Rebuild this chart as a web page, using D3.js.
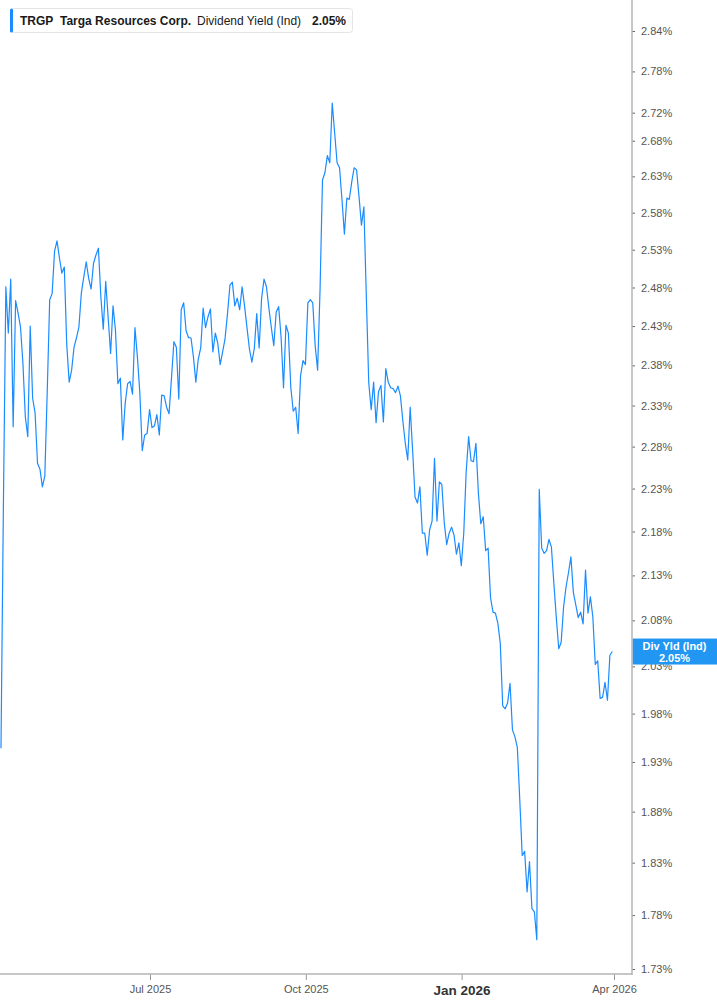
<!DOCTYPE html>
<html><head><meta charset="utf-8">
<script src="https://cdn.jsdelivr.net/npm/d3@7"></script>
<style>
html,body{margin:0;padding:0;background:#fff;}
svg{display:block;font-family:"Liberation Sans",Arial,Helvetica,sans-serif;}
</style></head><body>
<svg id="c" width="717" height="1005"></svg>
<script>
const ticker = "TRGP";
const company = "Targa Resources Corp.";
const metric = "Dividend Yield (Ind)";
const shortMetric = "Div Yld (Ind)";
const startDate = "2025-04-04";
const endDate = "2026-03-31";
const yieldValues = [
1.944,2.213,2.481,2.421,2.491,2.304,2.463,2.447,2.429,2.383,
2.316,2.292,2.430,2.339,2.321,2.260,2.253,2.232,2.245,2.349,
2.464,2.472,2.528,2.542,2.519,2.499,2.507,2.406,2.359,2.374,
2.403,2.415,2.429,2.473,2.494,2.514,2.492,2.478,2.512,2.523,
2.532,2.468,2.426,2.488,2.441,2.395,2.456,2.425,2.357,2.364,
2.288,2.333,2.357,2.360,2.344,2.428,2.391,2.346,2.275,2.294,
2.296,2.325,2.303,2.305,2.319,2.294,2.343,2.342,2.328,2.320,
2.364,2.410,2.403,2.338,2.451,2.460,2.424,2.415,2.415,2.391,
2.359,2.388,2.402,2.453,2.428,2.442,2.452,2.397,2.421,2.408,
2.381,2.397,2.414,2.446,2.483,2.487,2.456,2.466,2.451,2.481,
2.456,2.428,2.401,2.384,2.401,2.446,2.402,2.466,2.491,2.481,
2.453,2.428,2.405,2.448,2.455,2.416,2.352,2.431,2.421,2.352,
2.323,2.328,2.296,2.367,2.386,2.381,2.460,2.464,2.460,2.405,
2.374,2.477,2.625,2.635,2.659,2.649,2.734,2.691,2.649,2.642,
2.598,2.551,2.600,2.598,2.622,2.642,2.639,2.602,2.563,2.588,
2.468,2.358,2.325,2.359,2.309,2.347,2.355,2.310,2.376,2.359,
2.352,2.351,2.346,2.354,2.342,2.311,2.284,2.264,2.328,2.276,
2.220,2.213,2.232,2.178,2.178,2.153,2.182,2.192,2.266,2.192,
2.238,2.235,2.190,2.165,2.178,2.185,2.176,2.154,2.167,2.141,
2.178,2.250,2.292,2.263,2.262,2.284,2.225,2.189,2.197,2.158,
2.161,2.105,2.089,2.088,2.077,2.055,1.988,1.985,1.991,2.012,
1.963,1.956,1.945,1.892,1.837,1.841,1.802,1.831,1.786,1.783,
1.757,2.229,2.161,2.155,2.158,2.171,2.162,2.121,2.083,2.049,
2.056,2.095,2.117,2.133,2.151,2.111,2.097,2.083,2.089,2.076,
2.136,2.088,2.106,2.084,2.032,2.036,1.996,1.997,2.013,1.994,
2.042,2.046
];
const yTickValues = [1.73,1.78,1.83,1.88,1.93,1.98,2.03,2.08,2.13,2.18,2.23,2.28,2.33,2.38,2.43,2.48,2.53,2.58,2.63,2.68,2.72,2.78,2.84];
const xTickDates = ["2025-07-01","2025-10-01","2026-01-01","2026-04-01"];
const xTickLabels = ["Jul 2025","Oct 2025","Jan 2026","Apr 2026"];

const svg = d3.select("#c");
const W = 717, H = 1005;
const plotRight = 632, plotBottom = 974;
const parse = d3.timeParse("%Y-%m-%d");
const lineColor = "#1a8cff";

const x = d3.scaleTime()
  .domain([new Date(2025,3,3,10), new Date(2026,3,11,15)])
  .range([0, plotRight]);
const y = d3.scaleLog().domain([1.73, 2.84]).range([969, 31]);

const t0 = parse(startDate), t1 = parse(endDate);
const n = yieldValues.length;
const data = yieldValues.map((v,i) => ({
  date: new Date(+t0 + (t1 - t0) * i / (n - 1)),
  value: v
}));

// y axis (right)
const yAxis = d3.axisRight(y).tickValues(yTickValues)
  .tickFormat(d => d.toFixed(2) + "%").tickSize(3).tickPadding(6);
const gy = svg.append("g").attr("transform", `translate(${plotRight},0)`).call(yAxis);
gy.select(".domain").remove();
gy.selectAll(".tick line").attr("stroke", "#666");
gy.selectAll(".tick text").attr("fill", "#555").style("font-size", "11px")
  .style("font-family", '"Liberation Sans",Arial,sans-serif');

// x axis
const xAxis = d3.axisBottom(x).tickValues(xTickDates.map(parse))
  .tickFormat((d,i) => xTickLabels[i]).tickSize(6).tickPadding(5);
const gx = svg.append("g").attr("transform", `translate(0,${plotBottom})`).call(xAxis);
gx.select(".domain").remove();
gx.selectAll(".tick line").attr("stroke", "#999");
gx.selectAll(".tick text").attr("fill", "#555").style("font-size", "11px")
  .style("font-family", '"Liberation Sans",Arial,sans-serif');
gx.selectAll(".tick text").filter((d,i) => xTickLabels[i].startsWith("Jan"))
  .style("font-size", "13.5px").style("font-weight", "bold").attr("fill", "#333");

// axis lines
svg.append("line").attr("x1", 0).attr("x2", plotRight).attr("y1", plotBottom).attr("y2", plotBottom)
  .attr("stroke", "#b5b5b5").attr("stroke-width", 1.5);
svg.append("line").attr("x1", plotRight).attr("x2", plotRight).attr("y1", 0).attr("y2", plotBottom + 1)
  .attr("stroke", "#b5b5b5").attr("stroke-width", 1.5);

// line
const line = d3.line().x(d => x(d.date)).y(d => y(d.value));
svg.append("path").datum(data).attr("d", line)
  .attr("fill", "none").attr("stroke", lineColor).attr("stroke-width", 1.2)
  .attr("stroke-linejoin", "round");

// legend
const lg = svg.append("g");
lg.append("rect").attr("x", 10.5).attr("y", 8.5).attr("width", 342).attr("height", 24)
  .attr("rx", 3).attr("fill", "#fff").attr("stroke", "#e4e4e4");
lg.append("rect").attr("x", 10).attr("y", 8.5).attr("width", 3).attr("height", 24)
  .attr("rx", 1.5).attr("fill", lineColor);
const last = data[n - 1];
const legendItems = [
  {t: ticker, x: 20, w: "bold"},
  {t: company, x: 60, w: "bold"},
  {t: metric, x: 197, w: "normal"},
  {t: last.value.toFixed(2) + "%", x: 312, w: "bold"}
];
lg.selectAll("text.lg").data(legendItems).enter().append("text")
  .attr("x", d => d.x).attr("y", 25).text(d => d.t)
  .style("font-size", "12px").style("font-weight", d => d.w).attr("fill", "#1a1a1a");

// value label
const ly = y(last.value);
const vl = svg.append("g");
vl.append("rect").attr("x", plotRight + 0.8).attr("y", ly - 13).attr("width", W - plotRight).attr("height", 26)
  .attr("fill", "#2196f3");
vl.append("text").attr("x", 674.5).attr("y", ly - 1.5).attr("text-anchor", "middle")
  .text(shortMetric).style("font-size", "11px").style("font-weight", "bold").attr("fill", "#fff");
vl.append("text").attr("x", 674.5).attr("y", ly + 10).attr("text-anchor", "middle")
  .text(last.value.toFixed(2) + "%").style("font-size", "11px").style("font-weight", "bold").attr("fill", "#fff");
</script>
</body></html>
